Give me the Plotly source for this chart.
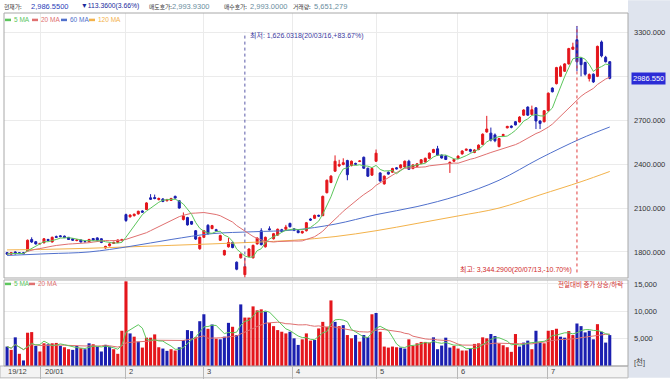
import plotly.graph_objects as go
import pandas as pd

# ---------------- data ----------------
opens = [1795, 1785, 1800, 1795, 1795, 1808, 1885, 1870, 1855, 1862,
         1885, 1868, 1905, 1910, 1908, 1900, 1890, 1878, 1882, 1872,
         1870, 1892, 1896, 1890, 1828, 1842, 1858, 1865, 1878, 2055,
         2040, 2048, 2060, 2080, 2090, 2170, 2172, 2158, 2162, 2150,
         2152, 2180, 2150, 2022, 2035, 2008, 1945, 1822, 1900, 1982,
         1960, 1952, 1880, 1780, 1835, 1865, 1730, 1760, 1645, 1770,
         1760, 1855, 1945, 1835, 1958, 1890, 1915, 1952, 1955, 1995,
         1958, 1945, 1930, 1945, 2025, 2030, 2050, 2048, 2205, 2275,
         2352, 2388, 2398, 2425, 2390, 2405, 2418, 2447, 2372, 2325,
         2420, 2340, 2265, 2345, 2345, 2375, 2375, 2380, 2420, 2370,
         2385, 2405, 2415, 2440, 2480, 2505, 2462, 2455, 2405, 2420,
         2440, 2470, 2495, 2500, 2480, 2500, 2535, 2620, 2612, 2600,
         2520, 2595, 2648, 2660, 2690, 2688, 2735, 2790, 2740, 2785,
         2695, 2690, 2765, 2920, 2950, 3000, 3035, 3085, 3185, 3250,
         3125, 3095, 2985, 3015, 3000, 3235, 3130, 3100]
highs = [1800, 1800, 1805, 1798, 1800, 1885, 1900, 1875, 1862, 1895,
         1890, 1905, 1912, 1915, 1912, 1902, 1893, 1886, 1885, 1876,
         1890, 1895, 1900, 1893, 1842, 1860, 1870, 1885, 1890, 2062,
         2058, 2062, 2082, 2085, 2140, 2195, 2192, 2172, 2168, 2163,
         2170, 2185, 2155, 2070, 2040, 2012, 1950, 1905, 1950, 1990,
         1985, 1958, 1918, 1815, 1895, 1870, 1735, 1790, 1760, 1825,
         1850, 1900, 1962, 1905, 1975, 1930, 1960, 1958, 1985, 2000,
         1962, 1950, 1945, 2005, 2030, 2055, 2055, 2185, 2295, 2325,
         2460, 2430, 2440, 2430, 2425, 2410, 2428, 2452, 2376, 2375,
         2500, 2345, 2322, 2350, 2375, 2380, 2400, 2425, 2430, 2400,
         2408, 2435, 2445, 2480, 2505, 2525, 2466, 2460, 2418, 2436,
         2460, 2495, 2506, 2505, 2502, 2535, 2610, 2730, 2650, 2610,
         2580, 2608, 2662, 2665, 2695, 2728, 2775, 2795, 2800, 2790,
         2700, 2770, 2890, 2925, 3065, 3075, 3090, 3195, 3230, 3344.29,
         3130, 3100, 3020, 3020, 3210, 3245, 3140, 3105]
lows = [1780, 1780, 1782, 1785, 1785, 1805, 1862, 1850, 1850, 1860,
        1875, 1865, 1895, 1900, 1895, 1882, 1875, 1873, 1865, 1865,
        1868, 1878, 1876, 1860, 1822, 1838, 1855, 1860, 1872, 2005,
        2035, 2042, 2055, 2068, 2088, 2155, 2160, 2152, 2140, 2145,
        2148, 2165, 2095, 2015, 1980, 1985, 1882, 1815, 1895, 1918,
        1955, 1940, 1875, 1775, 1830, 1825, 1675, 1755, 1626.03, 1765,
        1755, 1850, 1845, 1830, 1948, 1885, 1910, 1935, 1950, 1968,
        1942, 1928, 1925, 1940, 2012, 2025, 2040, 2045, 2200, 2270,
        2348, 2380, 2392, 2290, 2385, 2395, 2414, 2368, 2312, 2320,
        2415, 2280, 2260, 2328, 2340, 2364, 2370, 2375, 2360, 2365,
        2380, 2400, 2410, 2435, 2475, 2458, 2438, 2428, 2340, 2415,
        2435, 2465, 2490, 2480, 2475, 2495, 2530, 2615, 2555, 2550,
        2515, 2590, 2645, 2645, 2665, 2685, 2730, 2730, 2735, 2640,
        2640, 2685, 2760, 2890, 2945, 2995, 3030, 3080, 3180, 3035,
        3000, 3005, 2965, 2955, 2995, 3130, 3095, 2980]
closes = [1785, 1795, 1788, 1790, 1788, 1880, 1868, 1855, 1858, 1890,
          1878, 1900, 1900, 1905, 1898, 1885, 1880, 1882, 1868, 1870,
          1885, 1882, 1880, 1865, 1838, 1855, 1866, 1882, 1885, 2015,
          2052, 2058, 2078, 2072, 2135, 2160, 2165, 2165, 2145, 2158,
          2165, 2168, 2100, 2045, 1985, 1990, 1888, 1900, 1945, 1925,
          1980, 1945, 1912, 1810, 1865, 1830, 1682, 1785, 1700, 1820,
          1845, 1895, 1850, 1900, 1952, 1925, 1955, 1940, 1970, 1972,
          1948, 1932, 1940, 2000, 2018, 2050, 2045, 2180, 2290, 2318,
          2420, 2398, 2410, 2328, 2420, 2400, 2422, 2372, 2318, 2370,
          2475, 2285, 2318, 2332, 2370, 2368, 2395, 2420, 2365, 2395,
          2402, 2430, 2440, 2475, 2500, 2462, 2442, 2432, 2412, 2432,
          2455, 2490, 2502, 2488, 2497, 2530, 2605, 2640, 2565, 2560,
          2575, 2602, 2658, 2652, 2668, 2722, 2770, 2735, 2772, 2695,
          2678, 2765, 2885, 2895, 3060, 3065, 3085, 3190, 3200, 3100,
          3080, 3015, 3012, 2962, 3205, 3140, 3099.91, 2986.55]

# 60 / 120 day moving averages at sample candles
ma_sample_idx = [0, 10, 20, 30, 40, 50, 60, 70, 80, 90, 100, 110, 120, 130, 140, 147]
ma60_read = [1776, 1788, 1800, 1838, 1885, 1925, 1938, 1950, 1990, 2055,
             2110, 2185, 2290, 2440, 2575, 2654]
ma120_read = [1814, 1818, 1825, 1835, 1845, 1855, 1866, 1880, 1905, 1945,
              1995, 2046, 2100, 2190, 2280, 2350]

# volume in thousands, with bar colour as drawn (R = red, B = blue)
volumes = [3554, 2950, 5240, 2230, 1020, 6085, 6200, 3675, 2650, 4150,
           3975, 4150, 4220, 3675, 3430, 3070, 2950, 3675, 3250, 3070,
           4150, 3975, 3554, 2650, 3855, 3554, 3070, 2230, 6445, 15480,
           5960, 5360, 4460, 3370, 5180, 5180, 5780, 3430, 3190, 2770,
           3070, 2830, 3430, 4760, 6565, 6385, 5240, 8190, 9460, 6810,
           7590, 5000, 4880, 5360, 7890, 7170, 5660, 11265, 8855, 8855,
           10900, 10180, 10360, 9940, 7890, 7290, 6565, 6265, 5960, 6265,
           5060, 3855, 4880, 5960, 4640, 4760, 6870, 8070, 7170, 11990,
           8070, 7290, 7470, 5660, 5060, 5660, 4460, 5660, 5240, 9460,
           9700, 6265, 3554, 3370, 3554, 3430, 3370, 3190, 4880, 3675,
           4150, 4400, 4400, 4280, 5240, 3070, 3735, 5180, 3370, 3675,
           3190, 2830, 2830, 3190, 4040, 4150, 5240, 5060, 5845, 5480,
           4150, 3795, 3430, 2590, 5845, 3554, 4280, 4640, 3070, 6445,
           4280, 4150, 6445, 6565, 6810, 5360, 5180, 6385, 5660, 7770,
           7290, 6145, 6445, 4880, 7650, 6265, 4280, 5651]
vol_dir = list("BRBRBRRBRR" "BRRBRRBBRB" "BRBBBBRRRR" "BRBRRRRRBB" "RRBBBBRBBR"
               "BRBBBRBBRR" "RRRBRRRRRB" "BBRRRBRRRR" "BRBRRBRBBR" "BRRRRRBBRR"
               "RRRRBBBBBR" "RRRBRRRRBB" "RRRRRBBBRB" "BRRRRBBRRB" "BBBBRBBB")

# x axis: month separators (candle positions) and their labels
month_sep_pos = [-0.75, 8.2, 28.8, 47.8, 69.5, 90.0, 109.8, 131.7]
month_labels = ["19/12", "20/01", "2", "3", "4", "5", "6", "7"]

price_ticks = [1800, 2100, 2400, 2700, 3000, 3300]
price_tick_text = ["1800.000", "2100.000", "2400.000", "2700.000", "", "3300.000"]
vol_ticks = [5000, 10000, 15000]
vol_tick_text = ["5,000", "10,000", "15,000"]

last_price = 2986.55
low_idx, low_price = 58, 1626.03
high_idx, high_price = 139, 3344.29

# ---------------- derived series ----------------
n = len(closes)
idx = list(range(n))
cs = pd.Series(closes)
ma5 = cs.rolling(5, min_periods=1).mean()
ma20 = cs.rolling(20, min_periods=1).mean()
vs = pd.Series(volumes)
vma5 = vs.rolling(5, min_periods=1).mean()
vma20 = vs.rolling(20, min_periods=1).mean()

RED = "#e4161c"
BLUE = "#1b1fb0"
C5 = "#5cc65c"
C20 = "#e07070"
C60 = "#5070cc"
C120 = "#f3b24a"
FONT = "Liberation Sans, Noto Sans CJK KR, sans-serif"
KFONT = "Noto Sans CJK KR, sans-serif"

# geometry helpers (page pixels -> paper coords)
W, H = 670, 382
ML, MR, MT, MB = 4, 42, 13, 12
PW, PH = W - ML - MR, H - MT - MB


def px(xp):
    return (xp - ML) / PW


def py(yp):
    return (H - MB - yp) / PH


fig = go.Figure()

# moving averages (price)
fig.add_trace(go.Scatter(x=ma_sample_idx, y=ma120_read, mode="lines", line=dict(color=C120, width=1, shape="spline"),
                         xaxis="x", yaxis="y", hoverinfo="skip"))
fig.add_trace(go.Scatter(x=ma_sample_idx, y=ma60_read, mode="lines", line=dict(color=C60, width=1, shape="spline"),
                         xaxis="x", yaxis="y", hoverinfo="skip"))
fig.add_trace(go.Scatter(x=idx, y=ma20, mode="lines", line=dict(color=C20, width=1),
                         xaxis="x", yaxis="y", hoverinfo="skip"))
fig.add_trace(go.Scatter(x=idx, y=ma5, mode="lines", line=dict(color=C5, width=1),
                         xaxis="x", yaxis="y", hoverinfo="skip"))

fig.add_trace(go.Candlestick(
    x=idx, open=opens, high=highs, low=lows, close=closes,
    increasing=dict(line=dict(color=RED, width=1), fillcolor=RED),
    decreasing=dict(line=dict(color=BLUE, width=1), fillcolor=BLUE),
    whiskerwidth=0, xaxis="x", yaxis="y", hoverinfo="skip"))

# volume
fig.add_trace(go.Bar(x=idx, y=volumes, marker=dict(color=[RED if d == "R" else BLUE for d in vol_dir], line=dict(width=0)),
                     xaxis="x", yaxis="y2", hoverinfo="skip"))
fig.add_trace(go.Scatter(x=idx, y=vma20, mode="lines", line=dict(color=C20, width=1),
                         xaxis="x", yaxis="y2", hoverinfo="skip"))
fig.add_trace(go.Scatter(x=idx, y=vma5, mode="lines", line=dict(color=C5, width=1),
                         xaxis="x", yaxis="y2", hoverinfo="skip"))

shapes = []
# right axis panel background
shapes.append(dict(type="rect", xref="paper", yref="paper", x0=1.0, x1=px(W), y0=py(H), y1=py(0),
                   fillcolor="#dfe4ee", line=dict(width=0), layer="below"))
# bottom date strip
shapes.append(dict(type="rect", xref="paper", yref="paper", x0=px(0), x1=1.0, y0=py(H), y1=0,
                   fillcolor="#f3f3f3", line=dict(color="#b8b8b8", width=1), layer="below"))
# panel frames
shapes.append(dict(type="rect", xref="paper", yref="paper", x0=0, x1=1, y0=py(281), y1=1,
                   line=dict(color="#a8a8a8", width=1), layer="above"))
shapes.append(dict(type="rect", xref="paper", yref="paper", x0=0, x1=1, y0=0, y1=py(283),
                   line=dict(color="#a8a8a8", width=1), layer="above"))
# low / high markers
shapes.append(dict(type="line", xref="x", yref="y", x0=low_idx, x1=low_idx, y0=1700, y1=3300,
                   line=dict(color="#5a5aa8", width=1, dash="dot")))
shapes.append(dict(type="line", xref="x", yref="y", x0=high_idx, x1=high_idx, y0=1660, y1=high_price,
                   line=dict(color="#e03a3a", width=1, dash="dot")))
# legend swatches
legend_items = [(5, "5 MA", C5, 20), (32, "20 MA", C20, 20), (61, "60 MA", C60, 20), (89, "120 MA", C120, 20),
                (5, "5 MA", C5, 287), (29, "20 MA", C20, 287)]
annotations = []
for xp, label, col, yp in legend_items:
    shapes.append(dict(type="line", xref="paper", yref="paper", x0=px(xp), x1=px(xp + 6), y0=py(yp), y1=py(yp),
                       line=dict(color=col, width=2.5)))
    annotations.append(dict(xref="paper", yref="paper", x=px(xp + 7), y=py(yp), text=label, showarrow=False,
                            xanchor="left", yanchor="middle", font=dict(family=FONT, size=6.5, color=col)))

# header (labels in Korean, values in digits)
header = [(2, "현재가:", "#333333", KFONT, 5.8), (29, "2,986.5500", "#2a40b8", FONT, 7.5),
          (79, "▼113.3600(3.66%)", "#1a2a9c", FONT, 6.8),
          (147, "매도호가:", "#333333", KFONT, 5.8), (170, "2,993.9300", "#6a8ea0", FONT, 7.5),
          (222, "매수호가:", "#333333", KFONT, 5.8), (248, "2,993.0000", "#6a8ea0", FONT, 7.5),
          (291, "거래량:", "#333333", KFONT, 5.8), (312, "5,651,279", "#6a8ea0", FONT, 7.5)]
for xp, t, col, fam, sz in header:
    annotations.append(dict(xref="paper", yref="paper", x=px(xp), y=py(6), text=t, showarrow=False,
                            xanchor="left", yanchor="middle", font=dict(family=fam, size=sz, color=col)))

# low / high text
annotations.append(dict(xref="x", yref="paper", x=low_idx, y=py(36), xshift=3,
                        text="최저: 1,626.0318(20/03/16,+83.67%)", showarrow=False,
                        xanchor="left", yanchor="middle", font=dict(family=FONT, size=7, color="#3a3aa0")))
annotations.append(dict(xref="x", yref="paper", x=high_idx, y=py(272), xshift=-3,
                        text="최고: 3,344.2900(20/07/13,-10.70%)", showarrow=False,
                        xanchor="right", yanchor="middle", font=dict(family=FONT, size=7, color="#d02a2a")))
annotations.append(dict(xref="paper", yref="paper", x=px(625), y=py(287),
                        text="전일대비 증가 상승/하락", showarrow=False,
                        xanchor="right", yanchor="middle", font=dict(family=KFONT, size=6.5, color="#d02a2a")))
# current price box
annotations.append(dict(xref="paper", yref="y", x=1.0, y=last_price, xshift=3, text="2986.550", showarrow=False,
                        xanchor="left", yanchor="middle", bgcolor="#2c2cd6", borderpad=1,
                        font=dict(family=FONT, size=7.5, color="white")))
annotations.append(dict(xref="paper", yref="paper", x=1.0, y=py(366), xshift=4, text="[천]", showarrow=False,
                        xanchor="left", yanchor="middle", font=dict(family=FONT, size=7.5, color="#444444")))
# date labels
for pos, lab in zip(month_sep_pos, month_labels):
    annotations.append(dict(xref="x", yref="paper", x=pos, y=py(376), xshift=2, text=lab, showarrow=False,
                            xanchor="left", yanchor="middle", font=dict(family=FONT, size=7.5, color="#444444")))

fig.update_layout(
    width=W, height=H,
    margin=dict(l=ML, r=MR, t=MT, b=MB),
    paper_bgcolor="white", plot_bgcolor="white",
    showlegend=False, hovermode=False,
    bargap=0.25,
    xaxis=dict(anchor="y2", range=[-0.75, 151.45], tickvals=month_sep_pos[1:], showticklabels=False,
               ticks="outside", ticklen=12, tickcolor="#b8b8b8", showgrid=True, gridcolor="#ebebeb",
               zeroline=False, rangeslider=dict(visible=False), fixedrange=True),
    yaxis=dict(domain=[py(281), 1], anchor="x", side="right", range=[1622, 3433],
               tickvals=price_ticks, ticktext=price_tick_text, ticks="", ticklabelstandoff=5,
               tickfont=dict(family=FONT, size=7.5, color="#333333"),
               showgrid=True, gridcolor="#ebebeb", zeroline=False, fixedrange=True),
    yaxis2=dict(domain=[0, py(283)], anchor="x", side="right", range=[0, 15730],
                tickvals=vol_ticks, ticktext=vol_tick_text, ticks="", ticklabelstandoff=5,
                tickfont=dict(family=FONT, size=7.5, color="#333333"),
                showgrid=True, gridcolor="#ebebeb", zeroline=False, fixedrange=True),
    shapes=shapes,
    annotations=annotations,
)

fig.write_html("out.html", config={"displayModeBar": False},
               post_script="document.body.style.margin='0px';document.body.style.padding='0px';")
